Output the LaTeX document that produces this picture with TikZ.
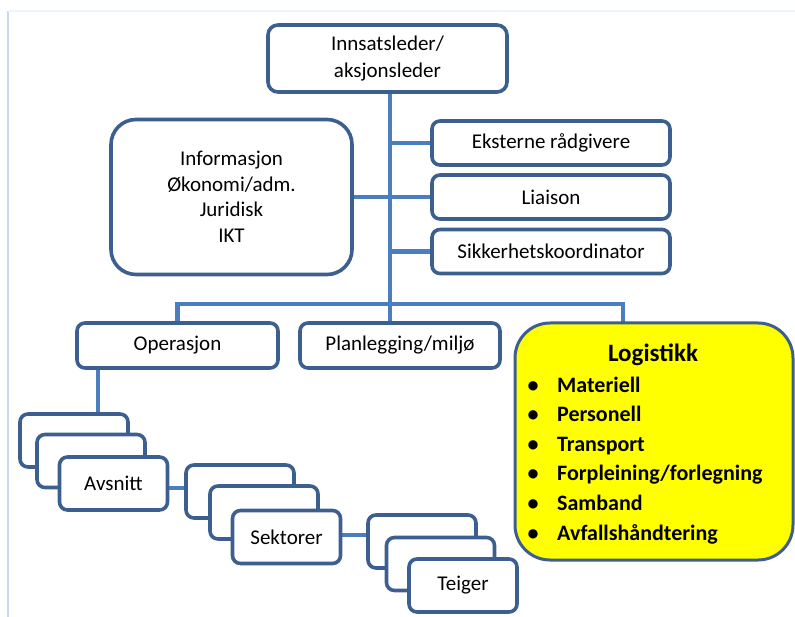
\documentclass[tikz,border=0pt]{standalone}
\usepackage{fontspec}
\setmainfont{Carlito}
\usetikzlibrary{calc,backgrounds}
\definecolor{edge}{HTML}{3D5F8F}
\definecolor{linkblue}{HTML}{4A7EBF}
\definecolor{frameline}{HTML}{C6D9F0}
\definecolor{frametop}{HTML}{EEF4FB}
\definecolor{logfill}{HTML}{FFFF00}

\begin{document}
\begin{tikzpicture}[x=1pt,y=-1pt,
  orgbox/.style={draw=edge, line width=3.6pt, fill=white, rounded corners=8pt,
    inner sep=0pt, outer sep=0pt, align=center,
    font=\fontsize{21}{26}\selectfont},
  stackbox/.style={orgbox, minimum width=108pt, minimum height=53pt},
  sidebox/.style={orgbox, minimum width=238pt, minimum height=44pt},
  connector/.style={draw=linkblue, line width=4.5pt},
  listitem/.style={anchor=base west, inner sep=0pt,
    font=\bfseries\fontsize{22}{26}\selectfont},
  listdot/.style={anchor=base, inner sep=0pt,
    font=\bfseries\fontsize{22}{26}\selectfont}]
\useasboundingbox (0,0) rectangle (795,617);

% top level
\node[orgbox, rounded corners=10pt, minimum width=239pt, minimum height=67pt,
  font=\fontsize{21}{27}\selectfont] (top) at (387.5,58.5) {Innsatsleder/\\aksjonsleder};

% staff
\node[orgbox, rounded corners=25pt, minimum width=241pt, minimum height=155pt,
  font=\fontsize{21}{25.5}\selectfont] (info) at (231.5,197)
  {Informasjon\\Økonomi/adm.\\Juridisk\\IKT};
\node[sidebox] (ext) at (551,143) {Eksterne rådgivere};
\node[sidebox] (lia) at (551,197) {Liaison};
\node[sidebox] (sik) at (551,251.5) {Sikkerhetskoordinator};

% sections
\node[orgbox, minimum width=201pt, minimum height=45pt] (op) at (177.5,345.5) {Operasjon};
\node[orgbox, minimum width=200pt, minimum height=45pt] (plan) at (400,345.5) {Planlegging/miljø};

% logistics
\node[orgbox, fill=logfill, rounded corners=35pt, line width=3pt,
  minimum width=278pt, minimum height=237pt] (log) at (654,441.5) {};
\node[anchor=base, inner sep=0pt, font=\bfseries\fontsize{25}{30}\selectfont]
  (logtitle) at (653,362) {Logistikk};
\node[listdot] (b1) at (533,392) {•};
\node[listitem] (l1) at (557,392) {Materiell};
\node[listdot] (b2) at (533,421.6) {•};
\node[listitem] (l2) at (557,421.6) {Personell};
\node[listdot] (b3) at (533,451.2) {•};
\node[listitem] (l3) at (557,451.2) {Transport};
\node[listdot] (b4) at (533,480.8) {•};
\node[listitem] (l4) at (557,480.8) {Forpleining/forlegning};
\node[listdot] (b5) at (533,510.4) {•};
\node[listitem] (l5) at (557,510.4) {Samband};
\node[listdot] (b6) at (533,540) {•};
\node[listitem] (l6) at (557,540) {Avfallshåndtering};

% stacked units
\node[stackbox] (a1) at (74,440.5) {};
\node[stackbox] (a2) at (91,461) {};
\node[stackbox] (a3) at (113.5,483.5) {Avsnitt};
\node[stackbox] (s1) at (240,491.5) {};
\node[stackbox] (s2) at (264,512.5) {};
\node[stackbox] (s3) at (286.5,537) {Sektorer};
\node[stackbox] (t1) at (422,541.5) {};
\node[stackbox] (t2) at (440.5,564) {};
\node[stackbox] (t3) at (463,585.5) {Teiger};

% connectors
\coordinate (trunk) at (390,304);
\coordinate (barR) at (623,304);
\begin{scope}[on background layer]
  \draw[frameline, line width=2pt] (8,11) -- (8,617);
  \draw[frametop, line width=1.5pt] (8,11) -- (795,11);
  \draw[connector] (top.south -| trunk) -- (plan.north -| trunk);
  \draw[connector] (op.north) |- (trunk) -- (barR) -- (barR |- log.north);
  \draw[connector] (info.east) -- (info.east -| trunk);
  \draw[connector] (ext.west) -- (ext.west -| trunk);
  \draw[connector] (lia.west) -- (lia.west -| trunk);
  \draw[connector] (sik.west) -- (sik.west -| trunk);
  \draw[connector] ($(op.south west)+(21,0)$) coordinate (d0) -- (d0 |- a1.north);
  \draw[connector] ($(a3.east)+(0,4.5)$) coordinate (d1) -- (d1 -| s1.west);
  \draw[connector] ($(s3.east)+(0,-2)$) coordinate (d2) -- (d2 -| t1.west);
\end{scope}
\end{tikzpicture}
\end{document}
